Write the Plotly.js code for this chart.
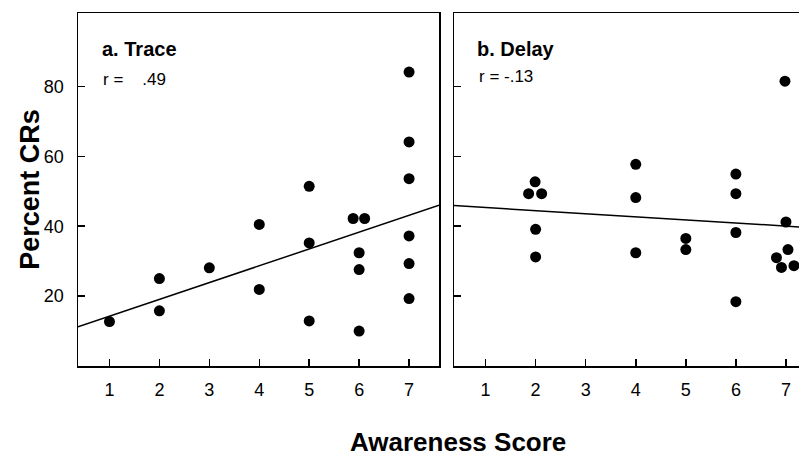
<!DOCTYPE html>
<html>
<head>
<meta charset="utf-8">
<script src="https://cdn.plot.ly/plotly-3.0.1.min.js"></script>
<style>
html, body { margin: 0; padding: 0; overflow: hidden; background: #fff; }
#chart { width: 830px; height: 460px; }
</style>
</head>
<body>
<div id="chart"></div>
<script>
// Panel a: Trace
const traceX = [1, 2, 2, 3, 4, 4, 5, 5, 5, 5.88, 6.11, 6, 6, 6, 7, 7, 7, 7, 7, 7];
const traceY = [12.7, 25.0, 15.8, 28.1, 40.5, 21.9, 51.4, 35.2, 12.9, 42.2, 42.2, 32.4, 27.6, 10.0, 84.1, 64.1, 53.6, 37.2, 29.3, 19.3];
const traceLineX = [0.37, 7.6];
const traceLineY = [11.2, 46.0];

// Panel b: Delay
const delayX = [1.99, 1.86, 2.12, 2, 2, 4, 4, 4, 5, 5, 6, 6, 6, 6, 6.98, 7, 7.04, 6.81, 6.91, 7.16];
const delayY = [52.7, 49.3, 49.3, 39.1, 31.2, 57.7, 48.2, 32.4, 36.5, 33.3, 54.9, 49.3, 38.2, 18.4, 81.5, 41.2, 33.3, 31.0, 28.2, 28.7];
const delayLineX = [0.37, 7.6];
const delayLineY = [45.9, 39.5];

const xTickVals = [1, 2, 3, 4, 5, 6, 7];
const yTickVals = [20, 40, 60, 80];
const panelTitles = ["a. Trace", "b. Delay"];
const rLabels = ["r =\u00a0\u00a0\u00a0\u00a0.49", "r = -.13"];
const xTitle = "Awareness Score";
const yTitle = "Percent CRs";

const font = "Arial, 'Liberation Sans', sans-serif";
const markerStyle = {color: "#000", size: 11};
const lineStyle = {color: "#000", width: 1.5};

const data = [
  {x: traceX, y: traceY, mode: "markers", type: "scatter", marker: markerStyle, xaxis: "x", yaxis: "y", hoverinfo: "none"},
  {x: traceLineX, y: traceLineY, mode: "lines", type: "scatter", line: lineStyle, xaxis: "x", yaxis: "y", hoverinfo: "none"},
  {x: delayX, y: delayY, mode: "markers", type: "scatter", marker: markerStyle, xaxis: "x2", yaxis: "y2", hoverinfo: "none"},
  {x: delayLineX, y: delayLineY, mode: "lines", type: "scatter", line: lineStyle, xaxis: "x2", yaxis: "y2", hoverinfo: "none"}
];

const xCommon = {
  range: [0.37, 7.6], tickvals: xTickVals, ticks: "inside", ticklen: 7, tickwidth: 1.5, tickcolor: "#000",
  showline: true, linecolor: "#000", linewidth: 1.5, mirror: true, showgrid: false, zeroline: false,
  tickfont: {family: font, size: 18, color: "#000"}, ticklabelstandoff: 7
};
const yCommon = {
  range: [0, 101], tickvals: yTickVals, ticks: "inside", ticklen: 7, tickwidth: 1.5, tickcolor: "#000",
  showline: true, linecolor: "#000", linewidth: 1.5, mirror: true, showgrid: false, zeroline: false,
  tickfont: {family: font, size: 18, color: "#000"}, ticklabelstandoff: 9
};

const layout = {
  width: 830, height: 460,
  margin: {l: 78, r: 14, t: 13, b: 94},
  paper_bgcolor: "#fff", plot_bgcolor: "#fff",
  showlegend: false,
  xaxis: Object.assign({}, xCommon, {domain: [0, 0.4892], anchor: "y"}),
  yaxis: Object.assign({}, yCommon, {domain: [0, 1], anchor: "x"}),
  xaxis2: Object.assign({}, xCommon, {domain: [0.5095, 1], anchor: "y2"}),
  yaxis2: Object.assign({}, yCommon, {domain: [0, 1], anchor: "x2", showticklabels: false}),
  annotations: [
    {text: "<b>" + panelTitles[0] + "</b>", xref: "x domain", yref: "y domain", x: 0.061, y: 0.898, xanchor: "left", yanchor: "middle", showarrow: false, font: {family: font, size: 20, color: "#000"}},
    {text: rLabels[0], xref: "x domain", yref: "y domain", x: 0.064, y: 0.812, xanchor: "left", yanchor: "middle", showarrow: false, font: {family: font, size: 17, color: "#000"}},
    {text: "<b>" + panelTitles[1] + "</b>", xref: "x2 domain", yref: "y2 domain", x: 0.058, y: 0.898, xanchor: "left", yanchor: "middle", showarrow: false, font: {family: font, size: 20, color: "#000"}},
    {text: rLabels[1], xref: "x2 domain", yref: "y2 domain", x: 0.064, y: 0.819, xanchor: "left", yanchor: "middle", showarrow: false, font: {family: font, size: 17, color: "#000"}},
    {text: "<b>" + xTitle + "</b>", xref: "paper", yref: "paper", x: 0.515, y: -0.216, xanchor: "center", yanchor: "middle", showarrow: false, font: {family: font, size: 26, color: "#000"}},
    {text: "<b>" + yTitle + "</b>", xref: "paper", yref: "paper", x: -0.066, y: 0.5, xanchor: "center", yanchor: "middle", textangle: -90, showarrow: false, font: {family: font, size: 27, color: "#000"}}
  ]
};

Plotly.newPlot("chart", data, layout, {displayModeBar: false, staticPlot: true});
</script>
</body>
</html>
